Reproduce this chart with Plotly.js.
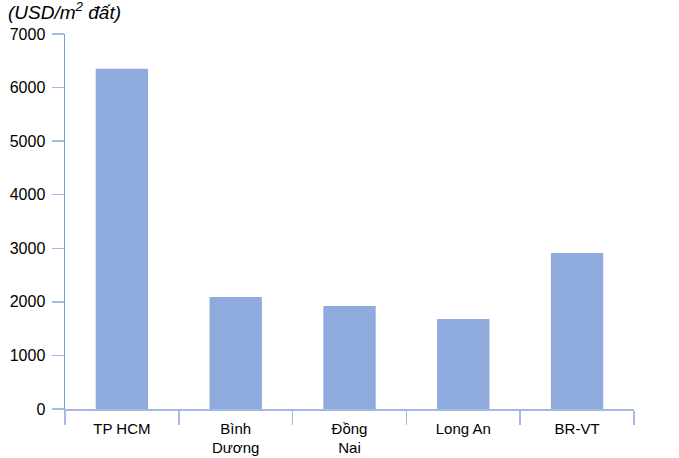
<!DOCTYPE html>
<html>
<head>
<meta charset="utf-8">
<script src="https://cdn.plot.ly/plotly-3.0.1.min.js"></script>
<style>html,body{margin:0;padding:0;background:#fff;}#chart{width:679px;height:458px;}</style>
</head>
<body>
<div id="chart"></div>
<script>
const categories = ["TP HCM", "Bình<br>Dương", "Đồng<br>Nai", "Long An", "BR-VT"];
const values = [6350, 2090, 1925, 1680, 2910];
const yTickVals = [0, 1000, 2000, 3000, 4000, 5000, 6000, 7000];
const unitLabel = "(USD/m<sup>2</sup> đất)";

const fam = "Liberation Sans, Arial, sans-serif";

Plotly.newPlot("chart", [{
  type: "bar",
  x: categories,
  y: values,
  marker: {color: "#8faadc", line: {width: 0}},
  hoverinfo: "skip"
}], {
  width: 679, height: 458,
  margin: {l: 65, r: 45, t: 34, b: 49, pad: 0},
  paper_bgcolor: "#fff", plot_bgcolor: "#fff",
  font: {family: fam, size: 15, color: "#000"},
  bargap: 0.54,
  showlegend: false,
  xaxis: {
    type: "category",
    showline: true, linecolor: "#a4b8e6", linewidth: 1.5,
    ticks: "outside", tickson: "boundaries", ticklen: 14, tickcolor: "#a4b8e6", tickwidth: 1.5,
    showgrid: false, zeroline: false,
    tickfont: {family: fam, size: 15, color: "#000"},
    ticklabelstandoff: 5,
    fixedrange: true
  },
  yaxis: {
    range: [0, 7000],
    tickvals: yTickVals,
    ticktext: yTickVals.map(String),
    showline: true, linecolor: "#7d9be0", linewidth: 1.5,
    ticks: "outside", ticklen: 12, tickcolor: "#a4b8e6", tickwidth: 1.5,
    showgrid: false, zeroline: false,
    tickfont: {family: fam, size: 16, color: "#000"},
    ticklabelstandoff: 3,
    fixedrange: true
  },
  annotations: [{
    text: unitLabel,
    xref: "paper", yref: "paper",
    x: -0.1035, y: 1.0, yshift: 9,
    xanchor: "left", yanchor: "bottom",
    showarrow: false,
    font: {family: fam, size: 19, color: "#000", style: "italic"}
  }]
}, {displayModeBar: false, staticPlot: true});
</script>
</body>
</html>
